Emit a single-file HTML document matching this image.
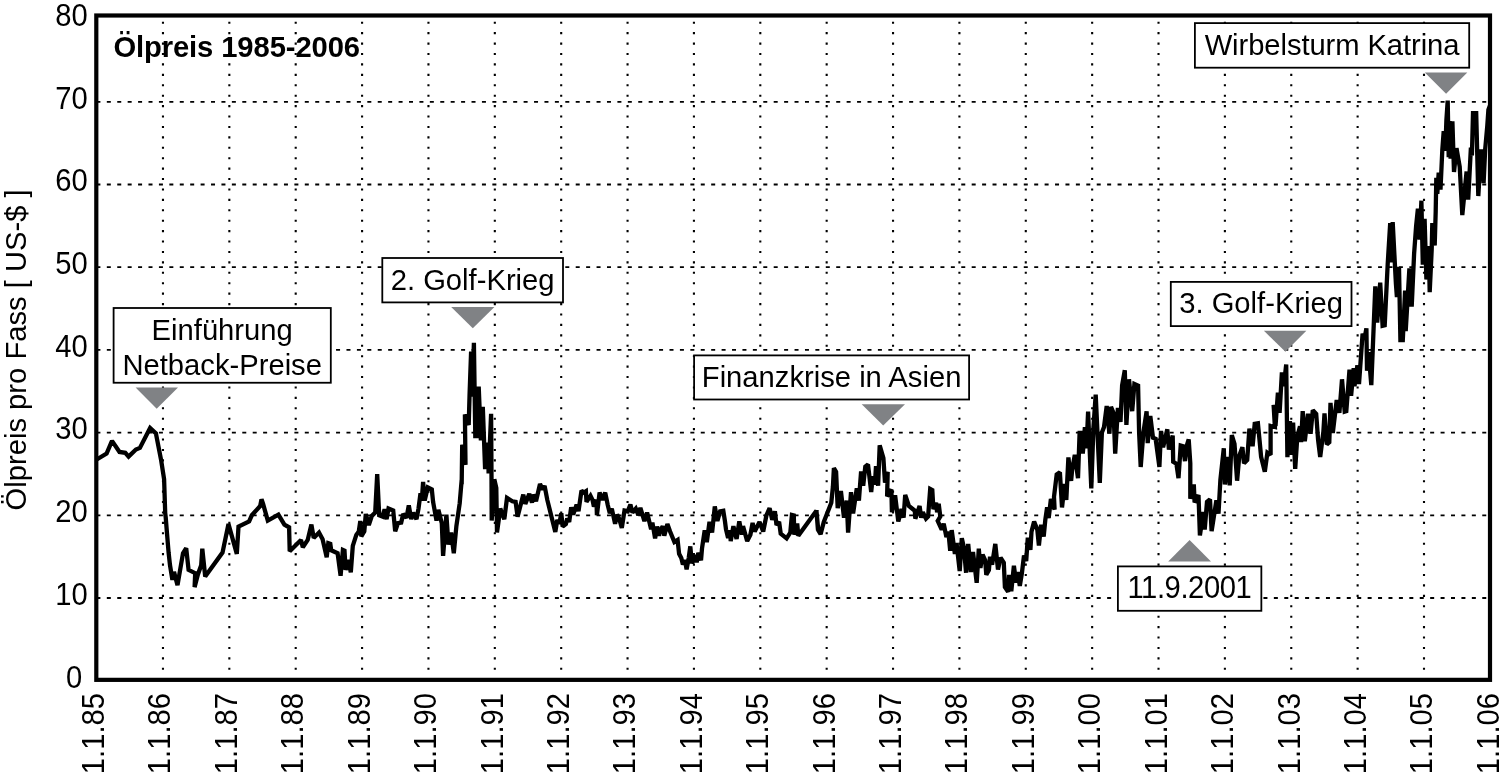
<!DOCTYPE html>
<html lang="de"><head><meta charset="utf-8"><title>Ölpreis 1985-2006</title>
<style>html,body{margin:0;padding:0;background:#fff;overflow:hidden}svg{display:block}text{font-family:"Liberation Sans",Arial,sans-serif;font-size:29.2px;fill:#000}.b{font-weight:bold}</style></head><body>
<svg width="1504" height="774" viewBox="0 0 1504 774">
<rect width="1504" height="774" fill="#fff"/>
<g stroke="#000" fill="none">
<line x1="162.97" y1="680.25" x2="162.97" y2="17" stroke-width="2.1" stroke-dasharray="2.1 8.32"/>
<line x1="229.34" y1="680.25" x2="229.34" y2="17" stroke-width="2.1" stroke-dasharray="2.1 8.32"/>
<line x1="295.71" y1="680.25" x2="295.71" y2="17" stroke-width="2.1" stroke-dasharray="2.1 8.32"/>
<line x1="362.08" y1="680.25" x2="362.08" y2="17" stroke-width="2.1" stroke-dasharray="2.1 8.32"/>
<line x1="428.45" y1="680.25" x2="428.45" y2="17" stroke-width="2.1" stroke-dasharray="2.1 8.32"/>
<line x1="494.82" y1="680.25" x2="494.82" y2="17" stroke-width="2.1" stroke-dasharray="2.1 8.32"/>
<line x1="561.19" y1="680.25" x2="561.19" y2="17" stroke-width="2.1" stroke-dasharray="2.1 8.32"/>
<line x1="627.56" y1="680.25" x2="627.56" y2="17" stroke-width="2.1" stroke-dasharray="2.1 8.32"/>
<line x1="693.93" y1="680.25" x2="693.93" y2="17" stroke-width="2.1" stroke-dasharray="2.1 8.32"/>
<line x1="760.30" y1="680.25" x2="760.30" y2="17" stroke-width="2.1" stroke-dasharray="2.1 8.32"/>
<line x1="826.67" y1="680.25" x2="826.67" y2="17" stroke-width="2.1" stroke-dasharray="2.1 8.32"/>
<line x1="893.04" y1="680.25" x2="893.04" y2="17" stroke-width="2.1" stroke-dasharray="2.1 8.32"/>
<line x1="959.41" y1="680.25" x2="959.41" y2="17" stroke-width="2.1" stroke-dasharray="2.1 8.32"/>
<line x1="1025.78" y1="680.25" x2="1025.78" y2="17" stroke-width="2.1" stroke-dasharray="2.1 8.32"/>
<line x1="1092.15" y1="680.25" x2="1092.15" y2="17" stroke-width="2.1" stroke-dasharray="2.1 8.32"/>
<line x1="1158.52" y1="680.25" x2="1158.52" y2="17" stroke-width="2.1" stroke-dasharray="2.1 8.32"/>
<line x1="1224.89" y1="680.25" x2="1224.89" y2="17" stroke-width="2.1" stroke-dasharray="2.1 8.32"/>
<line x1="1291.26" y1="680.25" x2="1291.26" y2="17" stroke-width="2.1" stroke-dasharray="2.1 8.32"/>
<line x1="1357.63" y1="680.25" x2="1357.63" y2="17" stroke-width="2.1" stroke-dasharray="2.1 8.32"/>
<line x1="1424.00" y1="680.25" x2="1424.00" y2="17" stroke-width="2.1" stroke-dasharray="2.1 8.32"/>
<line x1="96.4" y1="598.00" x2="1489" y2="598.00" stroke-width="1.8" stroke-dasharray="4 6.42"/>
<line x1="96.4" y1="515.30" x2="1489" y2="515.30" stroke-width="1.8" stroke-dasharray="4 6.42"/>
<line x1="96.4" y1="432.60" x2="1489" y2="432.60" stroke-width="1.8" stroke-dasharray="4 6.42"/>
<line x1="96.4" y1="349.90" x2="1489" y2="349.90" stroke-width="1.8" stroke-dasharray="4 6.42"/>
<line x1="96.4" y1="267.20" x2="1489" y2="267.20" stroke-width="1.8" stroke-dasharray="4 6.42"/>
<line x1="96.4" y1="184.50" x2="1489" y2="184.50" stroke-width="1.8" stroke-dasharray="4 6.42"/>
<line x1="96.4" y1="101.80" x2="1489" y2="101.80" stroke-width="1.8" stroke-dasharray="4 6.42"/>
</g>
<text class="b" x="113.4" y="57.3" textLength="246.6" lengthAdjust="spacing">Ölpreis 1985-2006</text>
<clipPath id="pc"><rect x="96.3" y="15.5" width="1393.7" height="664.35"/></clipPath>
<path clip-path="url(#pc)" d="M96.7 459.5 L106.6 453.6 L112.0 440.9 L119.5 451.9 L125.3 452.8 L128.6 456.6 L135.9 449.5 L139.9 447.9 L150.1 428.0 L155.9 433.3 L161.2 460.6 L164.1 479.2 L165.2 513.0 L165.7 517.3 L167.0 533.3 L168.6 552.6 L170.0 565.2 L172.4 579.8 L174.0 571.9 L177.5 585.2 L183.0 553.2 L186.2 548.2 L188.6 569.9 L195.2 573.2 L194.6 587.2 L197.9 574.5 L201.2 565.2 L202.3 548.6 L205.2 576.5 L222.5 552.6 L228.5 524.0 L236.8 553.9 L238.5 526.6 L249.1 521.3 L251.8 515.3 L260.2 506.0 L261.5 499.3 L263.1 504.0 L267.8 520.6 L278.4 514.6 L284.4 524.6 L289.1 527.3 L289.7 551.2 L301.0 539.9 L302.8 547.2 L307.7 539.9 L311.4 524.6 L313.7 537.9 L319.0 532.6 L322.6 539.3 L326.7 557.2 L328.3 543.2 L330.3 543.9 L331.2 550.3 L337.6 553.2 L340.6 575.8 L342.9 549.9 L344.5 550.6 L345.6 569.9 L348.3 559.9 L350.8 572.3 L352.8 545.9 L356.3 534.9 L358.8 531.4 L360.3 521.0 L361.3 536.4 L364.3 531.4 L365.8 514.0 L368.8 525.0 L371.8 516.0 L375.2 512.6 L377.2 474.0 L379.2 515.2 L382.6 516.6 L384.6 509.3 L386.6 519.2 L388.5 508.6 L393.2 510.6 L395.2 531.2 L397.9 523.2 L401.2 522.6 L403.2 513.9 L406.5 517.9 L408.8 505.3 L411.2 519.2 L413.2 512.6 L416.5 519.2 L418.5 508.6 L420.5 493.3 L421.8 500.6 L423.1 482.0 L424.7 500.6 L427.8 487.3 L431.8 489.3 L433.1 501.9 L436.5 520.6 L438.4 509.9 L441.8 523.2 L443.1 555.8 L446.4 514.6 L448.4 544.5 L451.1 532.5 L453.8 553.2 L456.4 525.9 L459.7 503.3 L461.5 482.0 L461.7 482.0 L462.2 444.7 L465.5 464.9 L464.9 414.4 L468.7 425.0 L469.6 393.6 L471.1 351.6 L472.3 396.8 L473.9 342.9 L475.3 436.2 L476.9 436.2 L478.7 386.7 L480.9 440.4 L482.8 406.9 L485.1 469.1 L488.1 442.6 L488.6 473.4 L491.1 413.8 L491.5 476.6 L491.7 520.6 L494.3 479.3 L496.3 488.0 L497.0 532.5 L500.3 508.6 L504.3 519.2 L507.0 497.9 L512.3 501.3 L515.6 501.9 L517.6 516.6 L523.3 494.6 L525.3 503.9 L529.3 493.9 L532.0 502.6 L533.3 494.6 L536.0 501.3 L540.0 484.0 L542.6 489.3 L544.6 485.9 L547.3 499.9 L551.3 515.9 L555.3 531.9 L557.3 519.9 L559.3 523.9 L561.3 513.2 L562.6 526.5 L565.9 523.9 L567.2 518.5 L569.2 521.9 L571.2 507.2 L573.2 514.6 L576.6 504.6 L578.5 511.2 L581.5 490.6 L583.9 492.6 L585.9 491.3 L586.5 501.9 L590.5 495.9 L592.5 499.9 L593.9 506.6 L596.5 499.9 L596.9 515.2 L599.6 492.6 L602.5 499.9 L605.2 492.6 L607.8 505.2 L609.8 513.2 L611.8 508.6 L615.1 523.9 L617.1 514.6 L619.1 518.5 L621.8 527.9 L624.5 510.6 L627.8 511.2 L630.4 504.6 L632.4 512.6 L635.8 508.6 L638.4 515.2 L640.4 507.9 L644.4 521.2 L647.1 512.6 L651.1 529.2 L652.4 522.5 L655.1 538.5 L657.1 526.5 L659.1 535.8 L660.0 531.0 L662.7 526.2 L664.3 535.7 L667.4 524.0 L670.1 531.5 L674.4 542.1 L677.6 540.0 L679.1 553.8 L681.3 558.1 L682.9 564.5 L685.0 560.2 L686.6 569.3 L688.7 558.1 L690.3 546.4 L691.9 563.4 L695.1 554.9 L696.7 562.3 L698.3 552.8 L701.0 560.2 L702.0 548.5 L704.7 530.4 L706.8 542.1 L709.5 521.9 L712.1 532.6 L714.8 506.5 L717.4 520.9 L720.1 511.3 L723.3 510.7 L724.9 520.9 L726.0 529.4 L728.1 537.9 L730.2 530.4 L730.7 541.1 L733.4 526.2 L736.6 538.9 L739.3 521.4 L741.9 534.7 L743.0 526.2 L747.2 541.1 L750.4 534.7 L752.6 523.0 L754.7 531.5 L759.5 521.9 L763.2 531.5 L766.4 515.5 L769.6 508.1 L772.2 519.8 L774.9 511.3 L776.5 525.1 L779.1 521.9 L780.7 533.6 L786.6 538.4 L790.3 532.6 L791.9 515.0 L793.8 515.5 L794.3 534.7 L797.2 523.5 L798.3 535.7 L816.4 510.7 L818.0 530.4 L816.4 510.2 L818.3 530.4 L820.6 534.1 L823.8 521.9 L831.3 502.8 L832.9 486.8 L833.9 468.2 L836.1 471.9 L837.7 508.1 L840.9 491.1 L844.0 517.7 L846.7 500.6 L848.1 532.6 L851.0 492.1 L853.1 513.4 L856.8 488.4 L858.9 500.6 L861.1 471.4 L863.2 485.7 L865.3 466.6 L868.0 464.5 L871.2 492.1 L872.8 476.2 L874.9 484.7 L876.0 466.1 L878.1 485.7 L879.7 445.3 L883.4 458.1 L885.0 482.6 L887.7 471.9 L887.1 496.4 L891.4 489.5 L891.9 512.3 L895.1 495.3 L898.3 521.4 L901.5 509.1 L903.6 517.7 L905.2 494.8 L908.9 506.0 L914.8 510.7 L915.3 518.7 L919.6 506.0 L921.2 517.7 L922.8 512.3 L926.0 518.7 L928.1 516.6 L930.2 488.9 L932.3 490.0 L933.4 509.1 L936.1 502.8 L937.1 512.3 L938.7 503.8 L940.3 516.6 L937.7 520.9 L941.7 529.6 L943.7 523.6 L946.4 537.0 L948.4 531.7 L950.2 550.9 L951.7 530.1 L954.9 554.0 L956.5 542.9 L959.7 571.1 L961.8 538.1 L963.9 547.7 L966.1 572.7 L968.2 543.9 L970.9 572.1 L973.0 551.9 L976.7 582.8 L978.8 548.7 L980.4 567.9 L982.6 554.6 L985.2 560.4 L986.3 574.8 L988.9 570.0 L990.0 556.7 L992.1 564.7 L995.3 543.9 L998.0 569.5 L1000.6 557.8 L1003.8 562.6 L1004.9 587.0 L1008.1 591.8 L1009.1 574.8 L1011.3 591.3 L1013.9 565.7 L1016.1 582.8 L1017.7 572.1 L1019.8 586.0 L1021.9 573.2 L1024.0 555.6 L1026.2 561.0 L1027.8 537.6 L1030.4 549.8 L1031.5 531.7 L1034.1 521.6 L1037.3 529.6 L1038.9 545.5 L1041.1 524.8 L1043.7 536.5 L1045.3 520.0 L1047.1 507.4 L1048.7 518.1 L1050.9 498.9 L1054.6 509.6 L1054.0 496.8 L1056.7 474.5 L1059.9 472.3 L1062.0 507.4 L1064.7 484.0 L1066.3 500.0 L1068.4 457.4 L1071.1 480.9 L1072.1 470.2 L1074.8 454.8 L1078.0 478.2 L1079.6 433.0 L1082.2 433.0 L1082.8 453.7 L1084.9 427.1 L1086.5 448.4 L1088.1 411.7 L1091.3 488.3 L1093.4 428.2 L1095.7 394.7 L1099.8 483.0 L1101.9 432.4 L1104.0 427.1 L1106.7 405.9 L1109.4 433.5 L1111.0 406.9 L1113.6 413.3 L1115.2 453.7 L1117.9 408.0 L1120.5 421.8 L1122.1 385.6 L1124.8 370.2 L1126.4 425.0 L1129.0 379.3 L1132.2 411.2 L1134.4 384.0 L1138.1 385.6 L1139.1 432.4 L1140.7 467.0 L1143.4 432.4 L1146.6 411.2 L1147.7 443.1 L1150.3 416.0 L1153.0 437.8 L1155.6 438.8 L1159.4 467.0 L1161.0 430.9 L1163.1 447.3 L1167.3 429.3 L1168.9 449.5 L1172.7 435.6 L1173.2 461.7 L1176.4 463.8 L1178.5 478.2 L1180.7 445.6 L1182.9 446.2 L1185.0 461.1 L1186.6 446.2 L1188.7 439.3 L1190.3 463.2 L1190.3 498.7 L1193.8 484.4 L1194.6 502.4 L1198.5 495.0 L1199.9 535.4 L1203.4 512.0 L1204.7 529.6 L1207.0 501.9 L1210.0 499.3 L1211.6 531.2 L1216.4 500.3 L1218.5 513.6 L1220.4 479.6 L1223.8 448.3 L1224.9 484.5 L1228.1 456.8 L1229.7 485.5 L1231.8 435.0 L1234.5 444.0 L1237.1 480.7 L1239.3 455.7 L1242.4 447.2 L1244.0 463.2 L1247.2 460.0 L1249.4 428.6 L1252.6 446.2 L1254.7 423.8 L1257.9 423.3 L1259.5 439.8 L1261.1 456.8 L1264.8 471.7 L1267.4 452.6 L1270.6 454.7 L1270.6 426.0 L1274.9 427.0 L1273.6 404.8 L1275.5 426.1 L1277.9 392.6 L1279.6 412.8 L1281.9 372.3 L1283.8 386.2 L1286.2 364.5 L1287.4 457.1 L1289.9 421.0 L1291.5 455.0 L1293.1 422.6 L1295.2 468.8 L1297.3 436.9 L1300.0 426.3 L1301.1 442.2 L1302.7 411.2 L1304.8 441.2 L1308.0 413.8 L1310.6 433.7 L1312.8 410.1 L1316.2 413.8 L1318.1 440.1 L1320.2 457.1 L1323.4 431.6 L1324.5 413.5 L1326.8 444.4 L1329.3 442.2 L1330.5 402.9 L1332.8 433.0 L1336.7 400.0 L1339.4 412.8 L1342.0 379.3 L1344.7 411.7 L1346.3 411.2 L1349.5 369.7 L1351.1 395.7 L1353.7 368.1 L1354.5 386.2 L1357.4 365.4 L1359.0 384.0 L1362.6 333.7 L1364.3 339.6 L1366.4 328.4 L1367.0 370.7 L1368.6 352.1 L1371.3 385.1 L1375.3 286.4 L1377.2 322.6 L1380.2 282.7 L1382.6 325.7 L1384.7 325.2 L1387.7 264.0 L1390.2 223.1 L1390.9 262.4 L1392.7 222.0 L1395.9 283.7 L1396.9 297.0 L1399.0 266.7 L1400.4 340.1 L1402.8 340.1 L1405.1 290.6 L1405.7 331.1 L1409.4 268.3 L1410.2 304.5 L1411.8 304.5 L1414.1 253.9 L1416.1 226.3 L1417.9 208.7 L1419.6 239.6 L1421.4 200.7 L1422.8 264.6 L1424.6 218.8 L1426.4 279.5 L1428.8 246.0 L1429.7 292.2 L1431.7 249.7 L1432.3 223.1 L1434.7 245.4 L1435.7 211.4 L1436.3 177.9 L1437.3 193.8 L1438.7 172.6 L1440.5 189.6 L1442.3 150.2 L1443.7 131.2 L1445.3 150.9 L1446.4 120.0 L1447.7 100.6 L1448.7 157.1 L1449.6 121.1 L1450.6 158.7 L1452.4 121.3 L1454.0 172.0 L1456.5 148.1 L1459.7 166.7 L1462.3 215.1 L1466.6 171.5 L1468.2 199.7 L1470.9 147.6 L1471.9 155.5 L1473.0 113.1 L1476.2 113.1 L1478.3 196.0 L1481.0 151.3 L1483.1 151.3 L1483.6 183.2 L1485.2 149.1 L1487.3 125.7 L1488.4 109.8 L1490.4 104.5" fill="none" stroke="#000" stroke-width="4.3" stroke-linejoin="miter" stroke-miterlimit="2" stroke-linecap="butt"/>
<rect x="96.3" y="15.5" width="1393.7" height="664.35" fill="none" stroke="#000" stroke-width="4.2"/>
<text transform="translate(82.2 687.5) scale(1 1.045)" text-anchor="end">0</text>
<text transform="translate(87.7 604.8) scale(1 1.045)" text-anchor="end">10</text>
<text transform="translate(87.7 522.1) scale(1 1.045)" text-anchor="end">20</text>
<text transform="translate(87.7 439.4) scale(1 1.045)" text-anchor="end">30</text>
<text transform="translate(87.7 356.7) scale(1 1.045)" text-anchor="end">40</text>
<text transform="translate(87.7 274.0) scale(1 1.045)" text-anchor="end">50</text>
<text transform="translate(87.7 191.3) scale(1 1.045)" text-anchor="end">60</text>
<text transform="translate(87.7 108.6) scale(1 1.045)" text-anchor="end">70</text>
<text transform="translate(87.7 25.9) scale(1 1.045)" text-anchor="end">80</text>
<text transform="translate(25.5 349.9) rotate(-90)" text-anchor="middle">Ölpreis pro Fass [ US-$ ]</text>
<text transform="translate(104.0 693) rotate(-90) scale(1 1.045)" text-anchor="end">1.1.85</text>
<text transform="translate(170.4 693) rotate(-90) scale(1 1.045)" text-anchor="end">1.1.86</text>
<text transform="translate(236.8 693) rotate(-90) scale(1 1.045)" text-anchor="end">1.1.87</text>
<text transform="translate(303.2 693) rotate(-90) scale(1 1.045)" text-anchor="end">1.1.88</text>
<text transform="translate(369.7 693) rotate(-90) scale(1 1.045)" text-anchor="end">1.1.89</text>
<text transform="translate(436.1 693) rotate(-90) scale(1 1.045)" text-anchor="end">1.1.90</text>
<text transform="translate(502.5 693) rotate(-90) scale(1 1.045)" text-anchor="end">1.1.91</text>
<text transform="translate(568.9 693) rotate(-90) scale(1 1.045)" text-anchor="end">1.1.92</text>
<text transform="translate(635.3 693) rotate(-90) scale(1 1.045)" text-anchor="end">1.1.93</text>
<text transform="translate(701.7 693) rotate(-90) scale(1 1.045)" text-anchor="end">1.1.94</text>
<text transform="translate(768.2 693) rotate(-90) scale(1 1.045)" text-anchor="end">1.1.95</text>
<text transform="translate(834.6 693) rotate(-90) scale(1 1.045)" text-anchor="end">1.1.96</text>
<text transform="translate(901.0 693) rotate(-90) scale(1 1.045)" text-anchor="end">1.1.97</text>
<text transform="translate(967.4 693) rotate(-90) scale(1 1.045)" text-anchor="end">1.1.98</text>
<text transform="translate(1033.8 693) rotate(-90) scale(1 1.045)" text-anchor="end">1.1.99</text>
<text transform="translate(1100.2 693) rotate(-90) scale(1 1.045)" text-anchor="end">1.1.00</text>
<text transform="translate(1166.6 693) rotate(-90) scale(1 1.045)" text-anchor="end">1.1.01</text>
<text transform="translate(1233.1 693) rotate(-90) scale(1 1.045)" text-anchor="end">1.1.02</text>
<text transform="translate(1299.5 693) rotate(-90) scale(1 1.045)" text-anchor="end">1.1.03</text>
<text transform="translate(1365.9 693) rotate(-90) scale(1 1.045)" text-anchor="end">1.1.04</text>
<text transform="translate(1432.3 693) rotate(-90) scale(1 1.045)" text-anchor="end">1.1.05</text>
<text transform="translate(1498.7 693) rotate(-90) scale(1 1.045)" text-anchor="end">1.1.06</text>
<rect x="113.60" y="308.00" width="217.20" height="74.75" fill="#fff" stroke="#000" stroke-width="1.8"/>
<text x="222.20" y="339.90" text-anchor="middle">Einführung</text>
<text x="222.20" y="374.70" text-anchor="middle">Netback-Preise</text>
<rect x="382.30" y="258.00" width="180.70" height="44.40" fill="#fff" stroke="#000" stroke-width="1.8"/>
<text x="472.65" y="289.90" text-anchor="middle">2. Golf-Krieg</text>
<rect x="694.10" y="355.40" width="275.00" height="44.10" fill="#fff" stroke="#000" stroke-width="1.8"/>
<text x="831.60" y="387.10" text-anchor="middle">Finanzkrise in Asien</text>
<rect x="1170.80" y="281.90" width="180.70" height="44.20" fill="#fff" stroke="#000" stroke-width="1.8"/>
<text x="1261.15" y="313.40" text-anchor="middle">3. Golf-Krieg</text>
<rect x="1117.90" y="566.40" width="143.45" height="44.40" fill="#fff" stroke="#000" stroke-width="1.8"/>
<text transform="translate(1189.62 597.90) scale(1 1.045)" text-anchor="middle" textLength="124.4" lengthAdjust="spacing">11.9.2001</text>
<rect x="1194.90" y="23.10" width="274.30" height="44.60" fill="#fff" stroke="#000" stroke-width="1.8"/>
<text x="1332.05" y="55.00" text-anchor="middle" textLength="254.8" lengthAdjust="spacing">Wirbelsturm Katrina</text>
<polygon points="135.6,387.6 178.0,387.6 156.7,408.8" fill="#808285"/>
<polygon points="451.2,307.0 494.4,307.0 472.8,328.2" fill="#808285"/>
<polygon points="861.7,404.2 905.0,404.2 883.2,425.5" fill="#808285"/>
<polygon points="1263.9,330.8 1306.4,330.8 1285.4,351.8" fill="#808285"/>
<polygon points="1168.2,561.4 1211.0,561.4 1189.6,540.0" fill="#808285"/>
<polygon points="1424.8,72.5 1467.3,72.5 1446.1,93.7" fill="#808285"/>
</svg></body></html>
